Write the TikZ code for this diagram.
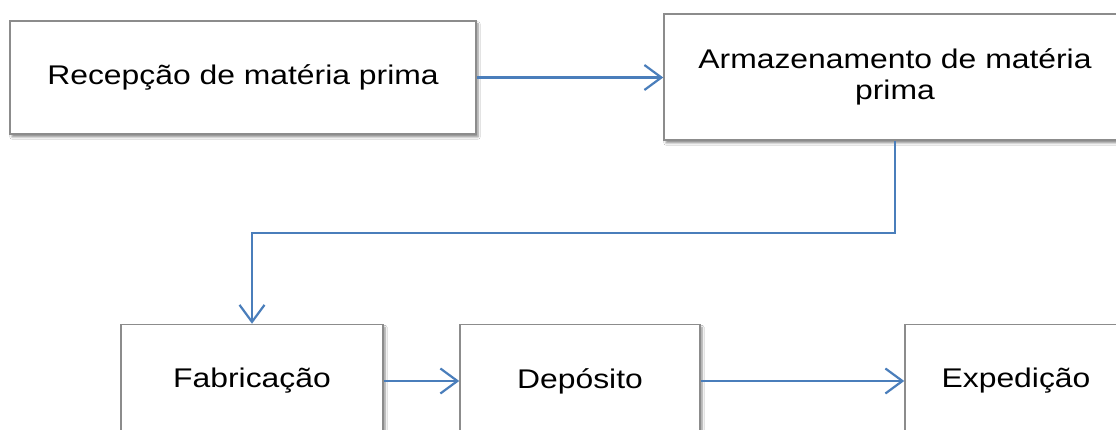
\documentclass[tikz,border=0pt]{standalone}
\usepackage{fontspec}
\setmainfont{Liberation Sans}[FakeStretch=1.18]
\usetikzlibrary{arrows.meta,shadows.blur}
\definecolor{conn}{HTML}{4A7EBB}
\definecolor{boxline}{HTML}{8C8C8C}
\begin{document}
\begin{tikzpicture}[x=1pt,y=-1pt,
  procbox/.style={draw=boxline, line width=1.5pt, fill=white, inner sep=0pt, align=center,
    font=\fontsize{27}{31}\selectfont,
    blur shadow={shadow xshift=2pt, shadow yshift=-3pt, shadow blur steps=6, shadow opacity=45}},
  flow/.style={draw=conn, line width=2.2pt, -{Straight Barb[length=17pt,width=25pt,line width=2.2pt]}}]
\useasboundingbox (0,0) rectangle (1116,430);
\clip (0,0) rectangle (1116,430);
\fill[white] (0,0) rectangle (1116,430);
\node[procbox, minimum width=466pt, minimum height=113pt] (b1) at (243,77.5) {Recepção de matéria prima};
\node[procbox, minimum width=462pt, minimum height=126pt] (b2) at (895,77) {Armazenamento de matéria\\prima};
\node[procbox, minimum width=262pt, minimum height=113pt] (b3) at (252,381) {Fabricação};
\node[procbox, minimum width=240pt, minimum height=113pt] (b4) at (580,381) {Depósito};
\node[procbox, minimum width=222pt, minimum height=113pt] (b5) at (1016,381) {Expedição};
\coordinate (bend) at (500,233);
\draw[flow] (b1.east) -- (b1.east -| b2.west);
\draw[flow] (b2.south) |- (bend) -| (b3.north);
\draw[flow] (b3.east) -- (b4.west);
\draw[flow] (b4.east) -- (b5.west);
\end{tikzpicture}
\end{document}
